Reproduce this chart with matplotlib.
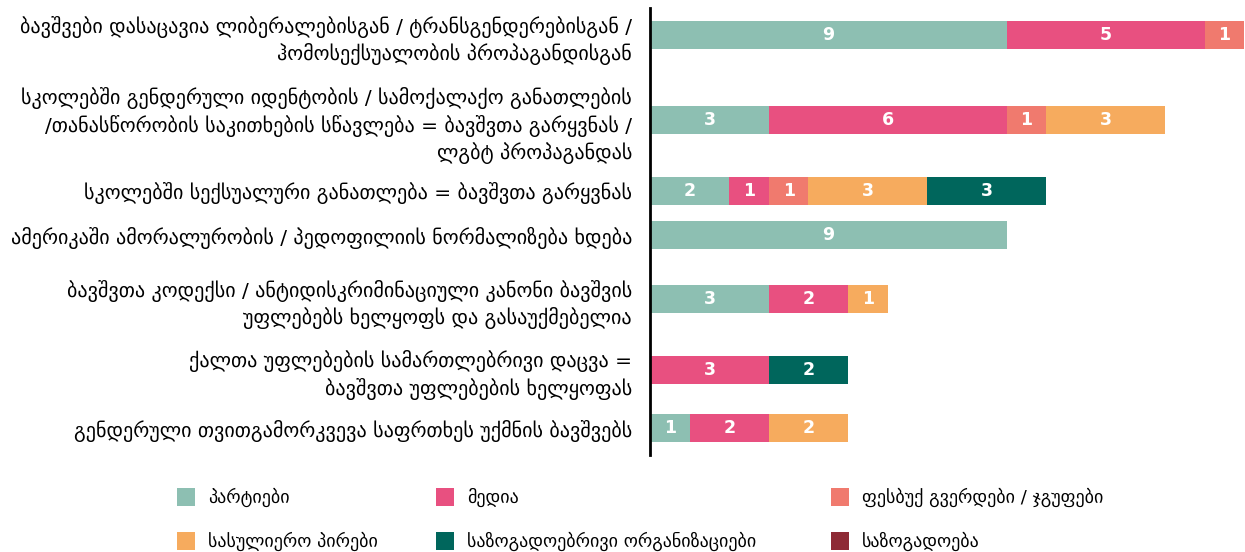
import matplotlib.pyplot as plt
from matplotlib.patches import Rectangle

# categories (top to bottom), each label line separated by \n
categories = [
    "ბავშვები დასაცავია ლიბერალებისგან / ტრანსგენდერებისგან /\nჰომოსექსუალობის პროპაგანდისგან",
    "სკოლებში გენდერული იდენტობის / სამოქალაქო განათლების\n/თანასწორობის საკითხების სწავლება = ბავშვთა გარყვნას /\nლგბტ პროპაგანდას",
    "სკოლებში სექსუალური განათლება = ბავშვთა გარყვნას",
    "ამერიკაში ამორალურობის / პედოფილიის ნორმალიზება ხდება",
    "ბავშვთა კოდექსი / ანტიდისკრიმინაციული კანონი ბავშვის\nუფლებებს ხელყოფს და გასაუქმებელია",
    "ქალთა უფლებების სამართლებრივი დაცვა =\nბავშვთა უფლებების ხელყოფას",
    "გენდერული თვითგამორკვევა საფრთხეს უქმნის ბავშვებს",
]

series_names = [
    "პარტიები",
    "მედია",
    "ფესბუქ გვერდები / ჯგუფები",
    "სასულიერო პირები",
    "საზოგადოებრივი ორგანიზაციები",
    "საზოგადოება",
]

parties = [9, 3, 2, 9, 3, 0, 1]
media = [5, 6, 1, 0, 2, 3, 2]
facebook = [1, 1, 1, 0, 0, 0, 0]
clergy = [0, 3, 3, 0, 1, 0, 2]
ngos = [0, 0, 3, 0, 0, 2, 0]
society = [0, 0, 0, 0, 0, 0, 0]

series_values = [parties, media, facebook, clergy, ngos, society]
colors = ["#8dbfb2", "#e85080", "#f07a6e", "#f6ab5e", "#00665c", "#8e2a35"]

# layout: row centres in pixels from the top of the figure
row_y = [35, 120, 191, 235, 299, 370, 428]

W, H = 1245, 552
fig = plt.figure(figsize=(W / 100, H / 100), dpi=100)
ax = fig.add_axes([650 / W, 1 - 455 / H, 595 / W, (455 - 8) / H])
ax.set_ylim(455, 8)
ax.set_xlim(0, 15.02)

left = [0] * len(categories)
for vals, col in zip(series_values, colors):
    bars = ax.barh(row_y, vals, left=left, height=28, color=col, linewidth=0)
    for bar, v in zip(bars, vals):
        if v > 0:
            ax.text(bar.get_x() + bar.get_width() / 2, bar.get_y() + bar.get_height() / 2,
                    str(v), ha="center", va="center", color="white",
                    fontsize=12.5, fontweight="bold")
    left = [l + v for l, v in zip(left, vals)]

ax.set_yticks(row_y)
ax.set_yticklabels(categories, fontsize=14.5, linespacing=1.34, ha="right",
                   multialignment="right")
ax.tick_params(axis="y", length=0, pad=13)
ax.set_xticks([])
for s in ["top", "right", "bottom"]:
    ax.spines[s].set_visible(False)
ax.spines["left"].set_linewidth(2)
ax.spines["left"].set_color("black")

# legend, placed by hand in pixel units
leg_cols = [177, 436, 831]
leg_rows = [497, 541]
for i, (name, col) in enumerate(zip(series_names, colors)):
    x = leg_cols[i % 3]
    y = leg_rows[i // 3]
    fig.add_artist(Rectangle((x / W, 1 - (y + 9) / H), 18 / W, 18 / H,
                             transform=fig.transFigure, color=col, linewidth=0))
    fig.text((x + 31) / W, 1 - y / H, name, fontsize=13, va="center", ha="left")

fig.savefig("out.png", dpi=100)
